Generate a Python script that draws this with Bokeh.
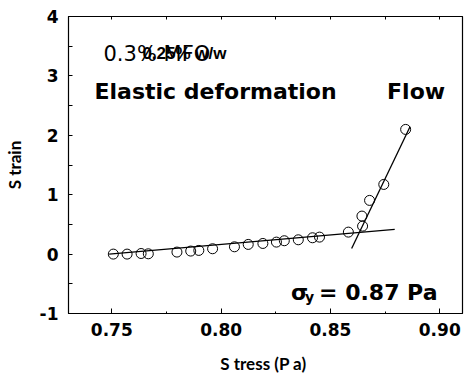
from bokeh.plotting import figure
from bokeh.models import (Range1d, LinearAxis, Label, FixedTicker, PrintfTickFormatter,
                          NumeralTickFormatter)
from bokeh.embed import file_html
from bokeh.resources import INLINE

# data
stress = [0.7507, 0.7570, 0.7634, 0.7667, 0.7798, 0.7861, 0.7898, 0.7961, 0.8061,
          0.8124, 0.8191, 0.8253, 0.8289, 0.8353, 0.8418, 0.8450, 0.8582, 0.8647,
          0.8644, 0.8679, 0.8744, 0.8844]
strain = [0.00, 0.00, 0.01, 0.005, 0.034, 0.051, 0.062, 0.090, 0.123,
          0.163, 0.179, 0.202, 0.225, 0.241, 0.275, 0.286, 0.370, 0.471,
          0.640, 0.904, 1.173, 2.099]
elastic_fit_x = [0.7488, 0.8794]
elastic_fit_y = [0.0, 0.415]
flow_fit_x = [0.8597, 0.8864]
flow_fit_y = [0.095, 2.144]
x_ticks = [0.75, 0.80, 0.85, 0.90]
x_minor = [0.775, 0.825, 0.875]
y_ticks = [-1, 0, 1, 2, 3, 4]
y_minor = [-0.5, 0.5, 1.5, 2.5, 3.5]

p = figure(width=464, height=377, output_backend="svg", toolbar_location=None,
           x_range=Range1d(0.7302, 0.9104), y_range=Range1d(-1, 4),
           min_border_left=60, min_border_right=2, min_border_top=16, min_border_bottom=64,
           x_axis_location=None, y_axis_location=None)
p.grid.visible = False
p.outline_line_color = "black"
p.outline_line_width = 1.2
p.background_fill_color = "white"
p.border_fill_color = "white"

tick_font = "DejaVu Sans"
title_font = "Lato"
xa = LinearAxis(ticker=FixedTicker(ticks=x_ticks, minor_ticks=x_minor),
                formatter=NumeralTickFormatter(format="0.00"),
                major_tick_in=5, major_tick_out=0, minor_tick_in=2, minor_tick_out=0,
                axis_label="S tress  (P a)", axis_label_text_font=title_font,
                axis_label_text_font_style="bold", axis_label_text_font_size="17px",
                axis_label_text_color="black", axis_label_standoff=14,
                major_label_text_font=tick_font, major_label_text_font_style="bold",
                major_label_text_font_size="17px", major_label_text_color="black",
                major_label_standoff=9,
                axis_line_color="black", major_tick_line_color="black", minor_tick_line_color="black")
p.add_layout(xa, "below")

ya = LinearAxis(ticker=FixedTicker(ticks=y_ticks, minor_ticks=y_minor),
                formatter=PrintfTickFormatter(format="%d"),
                major_tick_in=4, major_tick_out=0, minor_tick_in=4, minor_tick_out=0,
                axis_label="S train", axis_label_text_font=title_font,
                axis_label_text_font_style="bold", axis_label_text_font_size="17px",
                axis_label_text_color="black", axis_label_standoff=12,
                major_label_text_font=tick_font, major_label_text_font_style="bold",
                major_label_text_font_size="17px", major_label_text_color="black",
                major_label_standoff=10,
                axis_line_color="black", major_tick_line_color="black", minor_tick_line_color="black")
p.add_layout(ya, "left")

ta = LinearAxis(ticker=FixedTicker(ticks=x_ticks, minor_ticks=x_minor),
                major_tick_in=3, major_tick_out=0, minor_tick_in=3, minor_tick_out=0,
                major_label_overrides={t: "" for t in x_ticks}, major_label_standoff=0,
                axis_line_color="black", major_tick_line_color="black", minor_tick_line_color="black")
p.add_layout(ta, "above")

p.line(elastic_fit_x, elastic_fit_y, line_color="black", line_width=1.3)
p.line(flow_fit_x, flow_fit_y, line_color="black", line_width=1.3)
p.scatter(stress, strain, marker="circle", size=10, fill_color=None,
          line_color="black", line_width=1)

ann = "DejaVu Sans"
p.add_layout(Label(x=0.7462, y=3.375, text="0.3% MFO", text_font="DejaVu Sans",
                   text_font_size="21px", text_color="black", text_baseline="alphabetic"))
p.add_layout(Label(x=0.7640, y=3.375, text="0.25% w/w", text_font="Liberation Sans",
                   text_font_style="bold", text_font_size="17px", text_color="black",
                   text_baseline="alphabetic"))
p.add_layout(Label(x=0.7421, y=2.74, text="Elastic deformation", text_font=ann,
                   text_font_style="bold", text_font_size="22px", text_color="black",
                   text_baseline="alphabetic"))
p.add_layout(Label(x=0.8759, y=2.74, text="Flow", text_font=ann,
                   text_font_style="bold", text_font_size="22px", text_color="black",
                   text_baseline="alphabetic"))
p.add_layout(Label(x=0.8320, y=-0.64, text="σ", text_font=ann,
                   text_font_style="bold", text_font_size="22px", text_color="black",
                   text_baseline="alphabetic"))
p.add_layout(Label(x=0.8320, y=-0.64, x_offset=14, y_offset=-5, text="y", text_font=ann,
                   text_font_style="bold", text_font_size="14px", text_color="black",
                   text_baseline="alphabetic"))
p.add_layout(Label(x=0.8320, y=-0.64, x_offset=28, text="= 0.87 Pa", text_font=ann,
                   text_font_style="bold", text_font_size="22px", text_color="black",
                   text_baseline="alphabetic"))

open("out.html", "w").write(file_html(p, INLINE))
